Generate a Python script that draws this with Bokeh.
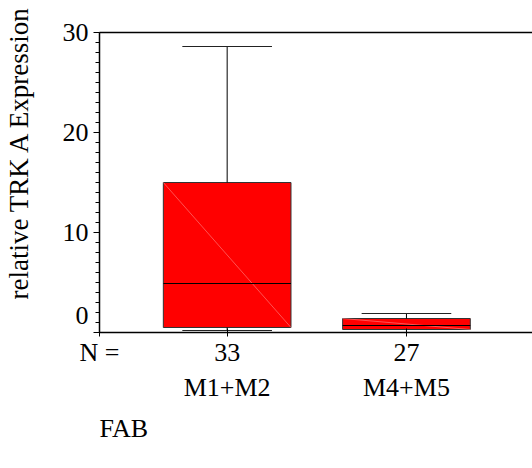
from bokeh.plotting import figure
from bokeh.models import FixedTicker, LinearAxis, Range1d, Title
from bokeh.embed import file_html
from bokeh.resources import INLINE

# ---- data ----
groups = ["M1+M2", "M4+M5"]
counts = [33, 27]
lower_whisker = [0.2, 0.0]
q1 = [0.5, 0.3]
median = [4.9, 0.7]
q3 = [15.0, 1.4]
upper_whisker = [28.6, 1.9]
y_major = [0, 10, 20, 30]
y_minor = list(range(0, 31))
y_title = "relative TRK A Expression"

FONT = "Liberation Serif"
xs = [i + 1 for i in range(len(groups))]
x_lo, x_hi = 0.288, 2.703
box_w = 0.712
cap_w = 0.50

p = figure(width=532, height=468, output_backend="svg", toolbar_location=None,
           x_range=Range1d(x_lo, x_hi), y_range=Range1d(0, 30),
           min_border_left=98, min_border_right=0, min_border_top=32,
           min_border_bottom=136, x_axis_location=None, y_axis_location=None)
p.grid.visible = False
p.outline_line_color = None
p.background_fill_color = "white"
p.border_fill_color = "white"

# boxes
p.vbar(x=xs, width=box_w, top=q3, bottom=q1, fill_color="#ff0000",
       line_color="#333333", line_width=1)
# faint diagonal artefact
p.segment(x0=[x - box_w / 2 for x in xs], y0=q3, x1=[x + box_w / 2 for x in xs], y1=q1,
          line_color="#ff8a8a", line_width=0.6)
# medians
p.segment(x0=[x - box_w / 2 for x in xs], y0=median, x1=[x + box_w / 2 for x in xs], y1=median,
          line_color="black", line_width=1)
# whiskers
p.segment(x0=xs, y0=q3, x1=xs, y1=upper_whisker, line_color="black", line_width=1)
p.segment(x0=xs, y0=q1, x1=xs, y1=lower_whisker, line_color="black", line_width=1)
p.segment(x0=[x - cap_w / 2 for x in xs], y0=upper_whisker, x1=[x + cap_w / 2 for x in xs],
          y1=upper_whisker, line_color="#222222", line_width=1)
p.segment(x0=[x - cap_w / 2 for x in xs], y0=lower_whisker, x1=[x + cap_w / 2 for x in xs],
          y1=lower_whisker, line_color="#222222", line_width=1)

# y axis
yax = LinearAxis(ticker=FixedTicker(ticks=y_major, minor_ticks=y_minor))
# leading no-break spaces push the centred label upwards, as in the reference
yax.axis_label = "\u00a0" * 9 + y_title
yax.axis_label_text_font = FONT
yax.axis_label_text_font_size = "27px"
yax.axis_label_text_font_style = "normal"
yax.axis_label_text_color = "black"
yax.axis_label_standoff = 26
yax.major_label_text_font = FONT
yax.major_label_text_font_size = "26px"
yax.major_label_text_color = "black"
yax.major_label_standoff = 5
yax.major_label_overrides = {0: "0\n"}
yax.major_tick_in = 0
yax.major_tick_out = 6
yax.minor_tick_in = 0
yax.minor_tick_out = 4
yax.axis_line_color = "black"
yax.axis_line_width = 1.5
p.add_layout(yax, "left")

# top line
top = LinearAxis(ticker=FixedTicker(ticks=[]), major_label_text_font_size="0px",
                 major_tick_out=0, minor_tick_out=0, axis_line_color="black",
                 axis_line_width=1.5)
p.add_layout(top, "above")

# x axis with N counts
xax = LinearAxis(ticker=FixedTicker(ticks=[x_lo] + xs))
overrides = {x_lo: "N ="}
for x, c in zip(xs, counts):
    overrides[x] = str(c)
xax.major_label_overrides = overrides
xax.major_label_text_font = FONT
xax.major_label_text_font_size = "26px"
xax.major_label_text_color = "black"
xax.major_label_standoff = 1
xax.major_tick_in = 4
xax.major_tick_out = 4
xax.minor_tick_out = 0
xax.minor_tick_in = 0
xax.axis_line_color = "black"
xax.axis_line_width = 1.5
p.add_layout(xax, "below")

# group names
gax = LinearAxis(ticker=FixedTicker(ticks=xs))
gax.major_label_overrides = {x: g for x, g in zip(xs, groups)}
gax.major_label_text_font = FONT
gax.major_label_text_font_size = "26px"
gax.major_label_text_color = "black"
gax.major_label_standoff = 3
gax.major_tick_in = 0
gax.major_tick_out = 0
gax.minor_tick_in = 0
gax.minor_tick_out = 0
gax.axis_line_color = None
p.add_layout(gax, "below")

p.add_layout(Title(text="FAB", align="left", text_font=FONT, text_font_size="26px",
                   text_font_style="normal", text_color="black", standoff=15), "below")

open("out.html", "w").write(file_html(p, INLINE))
